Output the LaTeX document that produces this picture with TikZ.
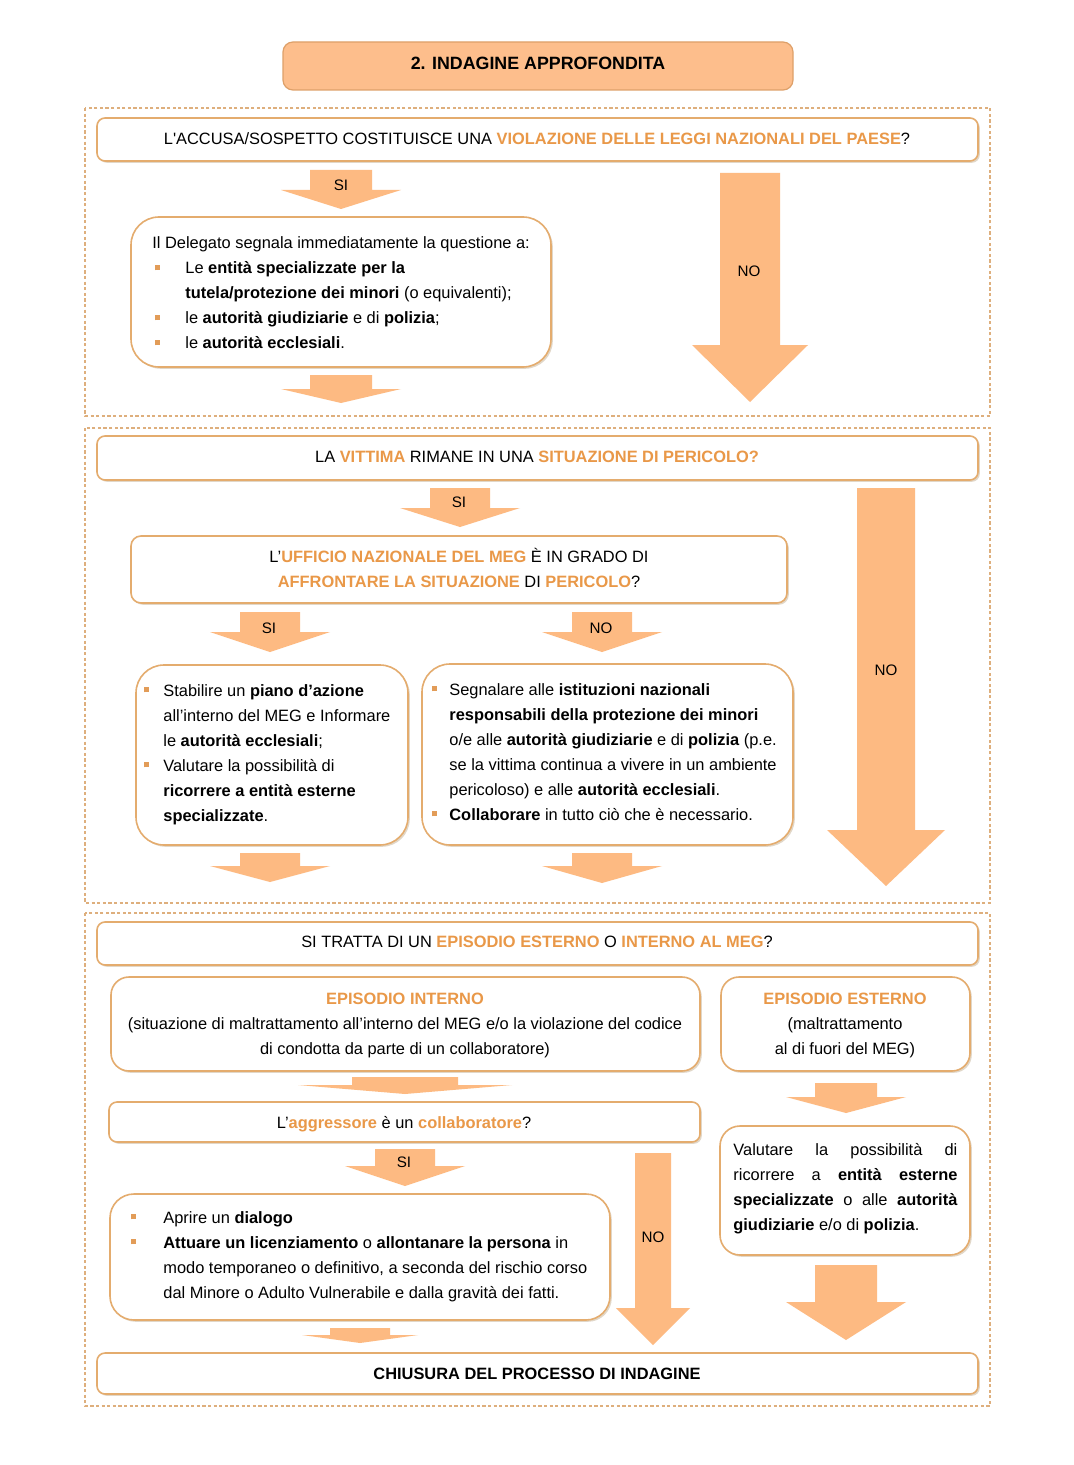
\documentclass[tikz,border=0pt]{standalone}
\usepackage{fontspec}
\setmainfont{Liberation Sans}
\definecolor{og}{RGB}{233,152,72}
\definecolor{afill}{RGB}{253,186,130}
\definecolor{tfill}{RGB}{253,190,140}
\definecolor{tborder}{RGB}{222,160,105}
\definecolor{bborder}{RGB}{228,172,110}
\definecolor{dframe}{RGB}{222,175,125}
\definecolor{bulc}{RGB}{226,156,88}
\definecolor{shad}{RGB}{225,215,200}
\newcommand\og[1]{\textcolor{og}{\textbf{#1}}}
\newcommand\bsq{\textcolor{bulc}{\raisebox{1.8pt}{\rule{2.6pt}{2.6pt}}}}
\newcommand\bitem[2]{\par\hangindent=#1\hangafter=1\noindent\makebox[#1][l]{\hspace{1.2pt}\bsq}#2}
\newcommand\barrow[6]{\fill[afill] ({#1-#2},#3) -- ({#1+#2},#3) -- ({#1+#2},#4) -- ({#1+#5},#4) -- (#1,#6) -- ({#1-#5},#4) -- ({#1-#2},#4) -- cycle;}
\begin{document}
\begin{tikzpicture}[x=0.5pt,y=-0.5pt, font=\fontsize{8.2pt}{12.5pt}\selectfont,
  qbox/.style={draw=bborder, line width=0.8pt, fill=white,
    preaction={fill=shad, transform canvas={shift={(0.9pt,-0.9pt)}}}},
  frame/.style={draw=dframe, line width=0.6pt, dash pattern=on 1.6pt off 1.2pt},
  lbl/.style={inner sep=0pt, font=\fontsize{7.6pt}{9pt}\selectfont},
  txt/.style={inner sep=0pt, anchor=base},
  txtl/.style={inner sep=0pt, anchor=base west}]
\fill[white] (0,0) rectangle (1074,1465);
\useasboundingbox (0,0) rectangle (1074,1465);

% title
\draw[fill=tfill, draw=tborder, line width=0.6pt, rounded corners=5pt] (283,42) rectangle (793,90);
\node[txt, font=\fontsize{8.9pt}{11pt}\selectfont] (title) at (538,70) {\textbf{2. INDAGINE APPROFONDITA}};

% ---------- frame 1
\draw[frame] (85,108) rectangle (990,416);
\draw[qbox, rounded corners=4pt] (97,118) rectangle (978,161);
\node[txt] (q1) at (537,145) {L\textquotesingle ACCUSA/SOSPETTO COSTITUISCE UNA \og{VIOLAZIONE DELLE LEGGI NAZIONALI DEL PAESE}?};
\barrow{341}{31}{170}{190}{60}{209}
\node[lbl] (si1) at (341,185) {SI};
\draw[qbox, rounded corners=14pt] (131,217) rectangle (551,367);
\node[txtl] (del) at (152,249) {\parbox[t]{220pt}{\raggedright Il Delegato segnala immediatamente la questione a:
\bitem{16.5pt}{Le \textbf{entità specializzate per la}\newline \textbf{tutela/protezione dei minori} (o equivalenti);}
\bitem{16.5pt}{le \textbf{autorità giudiziarie} e di \textbf{polizia};}
\bitem{16.5pt}{le \textbf{autorità ecclesiali}.}}};
\barrow{341}{31}{375}{389}{60}{403}
\barrow{750}{30}{173}{345}{58}{402}
\node[lbl] (no1) at (749,271) {NO};

% ---------- frame 2
\draw[frame] (85,428) rectangle (990,903);
\draw[qbox, rounded corners=4pt] (97,436) rectangle (978,480);
\node[txt] (q2) at (537,462) {LA \og{VITTIMA} RIMANE IN UNA \og{SITUAZIONE DI PERICOLO?}};
\barrow{460}{30}{488}{508}{60}{527}
\node[lbl] (si2) at (459,502) {SI};
\draw[qbox, rounded corners=5pt] (131,536) rectangle (787,603);
\node[txt] (q3) at (459,562) {\parbox[t]{320pt}{\centering L’\og{UFFICIO NAZIONALE DEL MEG} È IN GRADO DI\\ \og{AFFRONTARE LA SITUAZIONE} DI \og{PERICOLO}?}};
\barrow{270}{30}{612}{632}{60}{652}
\node[lbl] (si3) at (269,628) {SI};
\barrow{602}{30}{612}{632}{60}{652}
\node[lbl] (no3) at (601,628) {NO};
\barrow{886}{29}{488}{830}{59}{886}
\node[lbl] (no2) at (886,670) {NO};
\draw[qbox, rounded corners=14pt] (136,665) rectangle (408,845);
\node[txtl] (piano) at (141,696) {\parbox[t]{140pt}{\raggedright
\bitem{11pt}{Stabilire un \textbf{piano d’azione}\newline all’interno del MEG e Informare\newline le \textbf{autorità ecclesiali};}
\bitem{11pt}{Valutare la possibilità di\newline \textbf{ricorrere a entità esterne}\newline \textbf{specializzate}.}}};
\draw[qbox, rounded corners=14pt] (422,664) rectangle (793,845);
\node[txtl] (segn) at (429,695) {\parbox[t]{190pt}{\raggedright
\bitem{10pt}{Segnalare alle \textbf{istituzioni nazionali}\newline \textbf{responsabili della protezione dei minori}\newline o/e alle \textbf{autorità giudiziarie} e di \textbf{polizia} (p.e.\newline se la vittima continua a vivere in un ambiente\newline pericoloso) e alle \textbf{autorità ecclesiali}.}
\bitem{10pt}{\textbf{Collaborare} in tutto ciò che è necessario.}}};
\barrow{270}{30}{853}{866}{60}{882}
\barrow{602}{30}{853}{866}{60}{883}

% ---------- frame 3
\draw[frame] (85,913) rectangle (990,1406);
\draw[qbox, rounded corners=4pt] (97,922) rectangle (978,965);
\node[txt] (q4) at (537,947) {SI TRATTA DI UN \og{EPISODIO ESTERNO} O \og{INTERNO AL MEG}?};
\draw[qbox, rounded corners=9pt] (111,977) rectangle (700,1071);
\node[txt] (int) at (405,1004) {\parbox[t]{300pt}{\centering \og{EPISODIO INTERNO}\\ (situazione di maltrattamento all’interno del MEG e/o la violazione del codice\\ di condotta da parte di un collaboratore)}};
\draw[qbox, rounded corners=9pt] (721,977) rectangle (970,1071);
\node[txt] (est) at (845,1004) {\parbox[t]{120pt}{\centering \og{EPISODIO ESTERNO}\\ (maltrattamento\\ al di fuori del MEG)}};
\barrow{405}{53}{1077}{1085}{107}{1094}
\draw[qbox, rounded corners=4pt] (109,1102) rectangle (700,1142);
\node[txt] (q5) at (404,1128) {L’\og{aggressore} è un \og{collaboratore}?};
\barrow{405}{30}{1149}{1166}{60}{1186}
\node[lbl] (si5) at (404,1162) {SI};
\draw[qbox, rounded corners=12pt] (110,1194) rectangle (610,1320);
\node[txtl] (apr) at (128,1223) {\parbox[t]{245pt}{\raggedright
\bitem{17.5pt}{Aprire un \textbf{dialogo}}
\bitem{17.5pt}{\textbf{Attuare un licenziamento} o \textbf{allontanare la persona} in\newline modo temporaneo o definitivo, a seconda del rischio corso\newline dal Minore o Adulto Vulnerabile e dalla gravità dei fatti.}}};
\barrow{653}{18}{1153}{1308}{37}{1345}
\node[lbl] (no5) at (653,1237) {NO};
\barrow{846}{31}{1083}{1097}{60}{1113}
\draw[qbox, rounded corners=10pt] (720,1126) rectangle (970,1255);
\node[txtl] (val) at (733,1155) {\parbox[t]{112pt}{\makebox[112pt][s]{Valutare la possibilità di}\\ \makebox[112pt][s]{ricorrere a \textbf{entità esterne}}\\ \makebox[112pt][s]{\textbf{specializzate} o alle \textbf{autorità}}\\ \textbf{giudiziarie} e/o di \textbf{polizia}.}};
\barrow{846}{31}{1265}{1302}{60}{1340}
\barrow{360}{30}{1328}{1335}{58}{1343}
\draw[qbox, rounded corners=4pt] (97,1353) rectangle (978,1394);
\node[txt] (fine) at (537,1379) {\textbf{CHIUSURA DEL PROCESSO DI INDAGINE}};
\end{tikzpicture}
\end{document}
